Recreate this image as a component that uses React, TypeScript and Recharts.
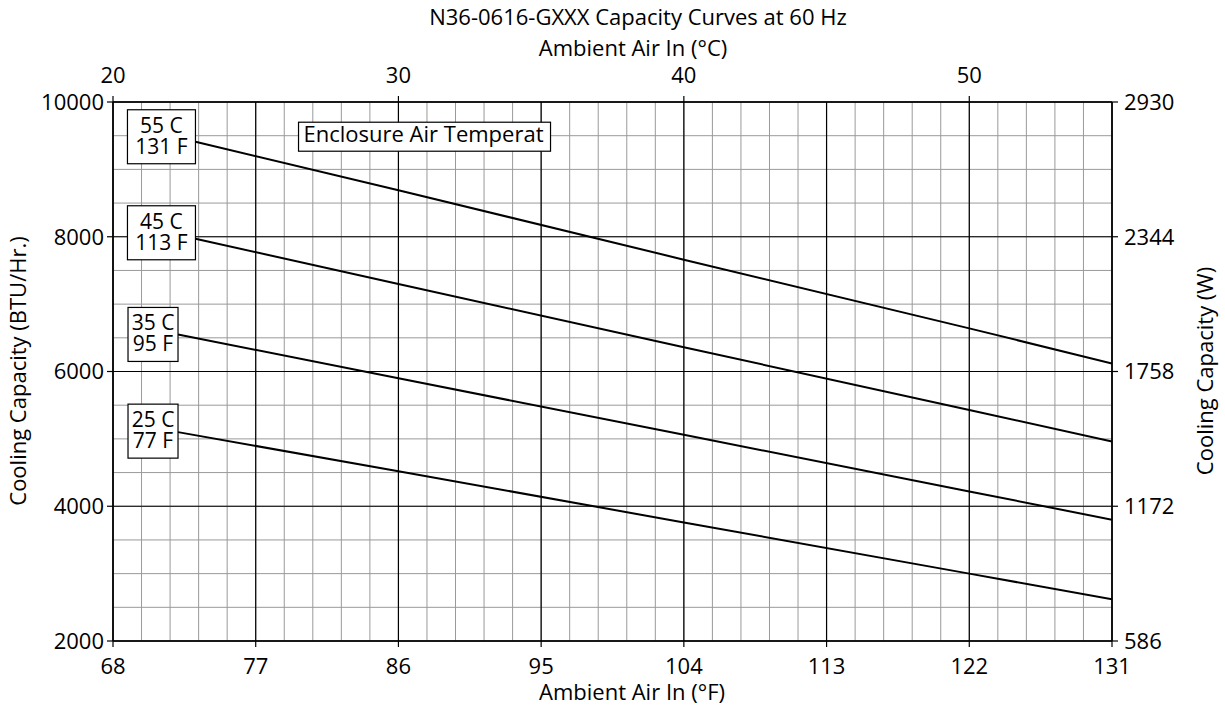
import React from "react";
import { LineChart, Line, XAxis, YAxis, CartesianGrid, ReferenceDot } from "recharts";

const FONT = "'Open Sans', sans-serif";

// axis ticks
const tempFTicks = [68, 77, 86, 95, 104, 113, 122, 131];
const tempCTicks = [20, 30, 40, 50];
const tempCGrid = [20, 21, 22, 23, 24, 25, 26, 27, 28, 29, 30, 31, 32, 33, 34, 35, 36, 37, 38, 39, 40, 41, 42, 43, 44, 45, 46, 47, 48, 49, 50, 51, 52, 53, 54, 55];
const btuTicks = [2000, 4000, 6000, 8000, 10000];
const btuGrid = [2000, 2500, 3000, 3500, 4000, 4500, 5000, 5500, 6000, 6500, 7000, 7500, 8000, 8500, 9000, 9500, 10000];
const wattTicks = [586, 1172, 1758, 2344, 2930];

// one curve per enclosure air temperature
const enclosureC = ["55 C", "45 C", "35 C", "25 C"];
const enclosureF = ["131 F", "113 F", "95 F", "77 F"];
const ambient55 = [73.2, 86, 104, 122, 131];
const capacity55 = [9410, 8690, 7660, 6640, 6120];
const ambient45 = [73.2, 86, 104, 122, 131];
const capacity45 = [7970, 7300, 6360, 5430, 4960];
const ambient35 = [72.1, 86, 104, 122, 131];
const capacity35 = [6550, 5900, 5060, 4220, 3800];
const ambient25 = [72.1, 86, 104, 122, 131];
const capacity25 = [5100, 4520, 3760, 3000, 2620];

const ambientSets = [ambient55, ambient45, ambient35, ambient25];
const capacitySets = [capacity55, capacity45, capacity35, capacity25];

const series = enclosureC.map((c, i) => ({
  c,
  f: enclosureF[i],
  data: ambientSets[i].map((x, j) => ({ f: x, btu: capacitySets[i][j] })),
}));

// rows for the °C scale on top (only drives that axis and the fine grid)
const celsiusRows = tempCGrid.map((c) => ({ c }));

// label boxes at the start of each curve
const boxWidth = [68, 68, 50, 50];
const boxNudge = [-5, -6, 0, -1];

const txt = { fontFamily: FONT, fontSize: 22, fill: "#000" };
const boxTxt = { fontFamily: FONT, fontSize: 21, fill: "#000" };

const TopTitles = () => (
  <g>
    <text x={638} y={25} textAnchor="middle" style={txt}>
      N36-0616-GXXX Capacity Curves at 60 Hz
    </text>
    <text x={633} y={56} textAnchor="middle" style={txt}>
      Ambient Air In (°C)
    </text>
  </g>
);

const BottomTitle = () => (
  <text x={632} y={700} textAnchor="middle" style={txt}>
    Ambient Air In (°F)
  </text>
);

const LeftTitle = () => (
  <text x={26} y={371} textAnchor="middle" transform="rotate(-90, 26, 371)" style={txt}>
    Cooling Capacity (BTU/Hr.)
  </text>
);

const RightTitle = () => (
  <text x={1213} y={371} textAnchor="middle" transform="rotate(-90, 1213, 371)" style={txt}>
    Cooling Capacity (W)
  </text>
);

export default function App() {
  return (
    <div style={{ position: "absolute", left: 0, top: 0, width: 1225, height: 710, background: "#fff" }}>
      <LineChart width={1225} height={710} data={celsiusRows} margin={{ top: 0, right: 0, bottom: 0, left: 0 }}>
        {/* fine grid: every 1 °C and every 500 BTU */}
        <CartesianGrid
          xAxisId="c"
          yAxisId="btu"
          verticalValues={tempCGrid}
          horizontalValues={btuGrid}
          stroke="#9a9a9a"
          strokeWidth={1}
        />
        {/* heavy grid on the main ticks */}
        <CartesianGrid xAxisId="f" yAxisId="btu" stroke="#000" strokeWidth={1.2} />

        <XAxis
          xAxisId="f"
          type="number"
          dataKey="f"
          domain={[68, 131]}
          allowDataOverflow
          ticks={tempFTicks}
          interval={0}
          height={69}
          tickSize={6}
          tickMargin={11}
          axisLine={{ stroke: "#000", strokeWidth: 1.5 }}
          tickLine={{ stroke: "#000", strokeWidth: 1.2 }}
          tick={txt}
          label={{ content: () => <BottomTitle /> }}
        />
        <XAxis
          xAxisId="c"
          orientation="top"
          type="number"
          dataKey="c"
          domain={[20, 55]}
          allowDataOverflow
          ticks={tempCTicks}
          interval={0}
          height={102}
          tickSize={6}
          tickMargin={13}
          axisLine={{ stroke: "#000", strokeWidth: 1.5 }}
          tickLine={{ stroke: "#000", strokeWidth: 1.2 }}
          tick={txt}
          label={{ content: () => <TopTitles /> }}
        />
        <YAxis
          yAxisId="btu"
          type="number"
          domain={[2000, 10000]}
          allowDataOverflow
          ticks={btuTicks}
          interval={0}
          width={113}
          tickSize={6}
          tickMargin={3}
          axisLine={{ stroke: "#000", strokeWidth: 1.5 }}
          tickLine={{ stroke: "#000", strokeWidth: 1.2 }}
          tick={txt}
          label={{ content: () => <LeftTitle /> }}
        />
        <YAxis
          yAxisId="w"
          orientation="right"
          type="number"
          domain={[586, 2930]}
          allowDataOverflow
          ticks={wattTicks}
          interval={0}
          width={113}
          tickSize={6}
          tickMargin={6}
          axisLine={{ stroke: "#000", strokeWidth: 1.5 }}
          tickLine={{ stroke: "#000", strokeWidth: 1.2 }}
          tick={txt}
          label={{ content: () => <RightTitle /> }}
        />

        {series.map((s) => (
          <Line
            key={s.c}
            xAxisId="f"
            yAxisId="btu"
            data={s.data}
            dataKey="btu"
            type="linear"
            stroke="#000"
            strokeWidth={2}
            dot={false}
            activeDot={false}
            isAnimationActive={false}
          />
        ))}

        {series.map((s, i) => (
          <ReferenceDot
            key={`box-${s.c}`}
            xAxisId="f"
            yAxisId="btu"
            x={s.data[0].f}
            y={s.data[0].btu}
            shape={(p: any) => {
              const w = boxWidth[i];
              const top = p.cy + boxNudge[i] - 27;
              const mid = p.cx - w / 2;
              return (
                <g>
                  <rect x={p.cx - w} y={top} width={w} height={54} fill="#fff" stroke="#000" strokeWidth={1.2} />
                  <text x={mid} y={top + 23} textAnchor="middle" style={boxTxt}>{s.c}</text>
                  <text x={mid} y={top + 44} textAnchor="middle" style={boxTxt}>{s.f}</text>
                </g>
              );
            }}
          />
        ))}

        <ReferenceDot
          xAxisId="f"
          yAxisId="btu"
          x={79.7}
          y={9700}
          shape={(p: any) => (
            <g>
              <rect x={p.cx} y={p.cy} width={252} height={29} fill="#fff" stroke="#000" strokeWidth={1.2} />
              <text x={p.cx + 5} y={p.cy + 20} style={txt}>Enclosure Air Temperat</text>
            </g>
          )}
        />
      </LineChart>
    </div>
  );
}
